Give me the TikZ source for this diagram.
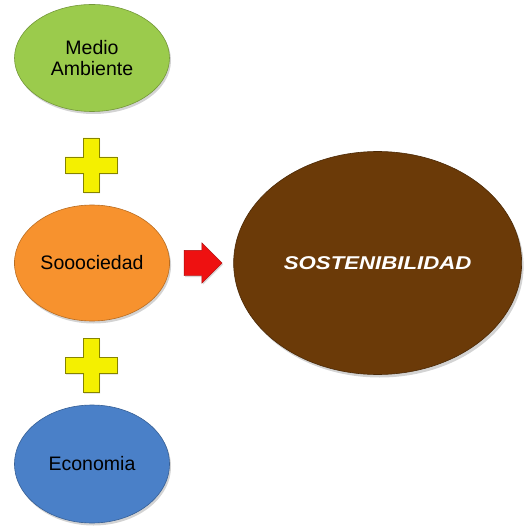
\documentclass[tikz,border=0pt]{standalone}
\usepackage{fontspec}
\setmainfont{Liberation Sans}
\usepackage{tikz}
\usetikzlibrary{shapes.geometric,shapes.arrows,shadows,positioning}
\definecolor{xgreen}{HTML}{9BCB4C}
\definecolor{xorange}{HTML}{F7922E}
\definecolor{xblue}{HTML}{4A80C8}
\definecolor{xbrown}{HTML}{6B3A08}
\definecolor{xyellow}{HTML}{F4F000}
\definecolor{xred}{HTML}{EE1111}

\begin{document}
\begin{tikzpicture}[
    x=1pt, y=-1pt,
    blob/.style={ellipse, fill=#1, draw=#1!75!black, line width=0.6pt, minimum width=155pt, minimum height=112pt, align=center, font=\fontsize{19.5}{21}\selectfont, drop shadow={opacity=0.35, shadow xshift=1.5pt, shadow yshift=-2.5pt}},
    goal/.style={ellipse, fill=xbrown, draw=xbrown!70!black, line width=0.6pt, minimum width=288pt, minimum height=223pt, text=white, font=\fontsize{18.5}{20}\selectfont\bfseries\itshape, drop shadow={opacity=0.35, shadow xshift=2pt, shadow yshift=-3pt}},
    gives/.style={single arrow, fill=xred, draw=xred!70!black, line width=0.4pt, minimum width=40pt, minimum height=38pt, single arrow head extend=7.5pt, inner xsep=0pt, inner ysep=12.5pt, drop shadow={opacity=0.3, shadow xshift=1pt, shadow yshift=-1.5pt}},
    plussign/.pic={\fill[xyellow, draw=xyellow!55!black, line width=0.5pt, drop shadow={opacity=0.3, shadow xshift=1pt, shadow yshift=-1.5pt}] (-26,-8) -- (-8,-8) -- (-8,-27) -- (8,-27) -- (8,-8) -- (26,-8) -- (26,8) -- (8,8) -- (8,27) -- (-8,27) -- (-8,8) -- (-26,8) -- cycle;},
]
\useasboundingbox (0,0) rectangle (523,526);

% Left column
\node[blob=xgreen, minimum height=107pt] (medio) at (92,58) {Medio\\Ambiente};
\node[blob=xorange, minimum height=116pt] (socie) at (92,263) {Sooociedad};
\node[blob=xblue, minimum height=118pt] (econo) at (92,464) {Economia};

% Plus signs
\pic at (91,165) {plussign};
\pic at (91,365) {plussign};

% Arrow and result
\node[gives, right=14pt of socie] (arrow) {};
\node[goal, right=11pt of arrow] (soste) {\scalebox{1.2}[1]{SOSTENIBILIDAD}};

\end{tikzpicture}
\end{document}
